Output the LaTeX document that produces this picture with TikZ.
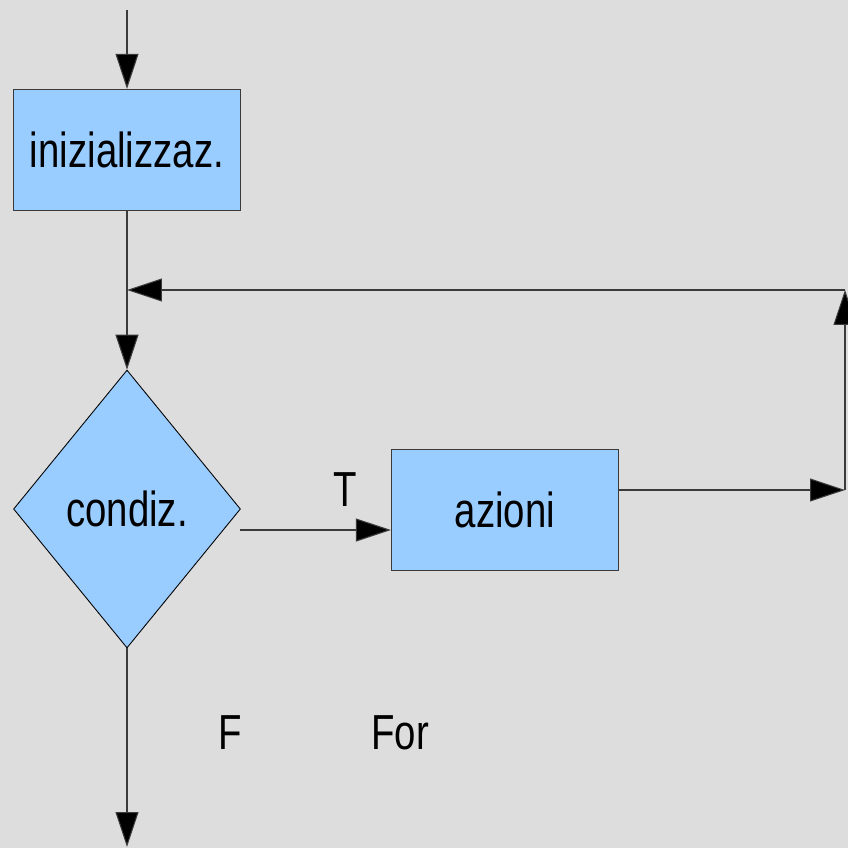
\documentclass[tikz,border=0pt]{standalone}
\usepackage{fontspec}
\newfontfamily\chartfont[FakeStretch=0.78]{Liberation Sans}
\usetikzlibrary{shapes.geometric,arrows.meta}
\definecolor{bgray}{HTML}{DDDDDD}
\definecolor{boxblue}{HTML}{99CCFF}
\definecolor{linegray}{HTML}{3A3A3A}
\tikzset{
  block/.style={draw=linegray,line width=0.8pt,fill=boxblue,minimum width=4.54cm,minimum height=2.42cm,inner sep=0pt},
  test/.style={diamond,draw=black,line width=0.5pt,fill=boxblue,minimum width=4.54cm,minimum height=5.56cm,inner sep=0pt},
  flow/.style={draw=linegray,line width=0.6pt,-{Triangle[length=0.7cm,width=0.46cm,fill=black]}},
  seg/.style={draw=linegray,line width=0.6pt}
}

\begin{document}
\begin{tikzpicture}[x=0.02cm,y=-0.02cm,font=\chartfont\fontsize{28}{32}\selectfont]
    \fill[bgray] (0,0) rectangle (848,848);
    \useasboundingbox (0,0) rectangle (848,848);
    \path (127, 150) node [block] (init) {inizializzaz.};
    \path (127, 509) node [test] (cond) {condiz.};
    \path (505, 510) node [block] (actions) {azioni};
    \coordinate (start) at (127,10);
    \coordinate (join) at (127,290);
    \coordinate (back) at (845,290);
    \coordinate (turn) at (845,490);
    \coordinate (tout) at (240,530);
    \coordinate (finish) at (127,847);
    \path (345, 490) node (true) {T};
    \path (230, 733) node (false) {F};
    \path (400, 733) node (title) {For};
    \draw [flow] (start) -- (init.north);
    \draw [flow] (init.south) -- (cond.north);
    \draw [flow] (tout) -- (actions.west |- tout);
    \draw [flow] (actions.east |- turn) -- (turn);
    \draw [flow] (turn) -- (back);
    \draw [flow] (back) -- (join);
    \draw [flow] (cond.south) -- (finish);
\end{tikzpicture}
\end{document}
